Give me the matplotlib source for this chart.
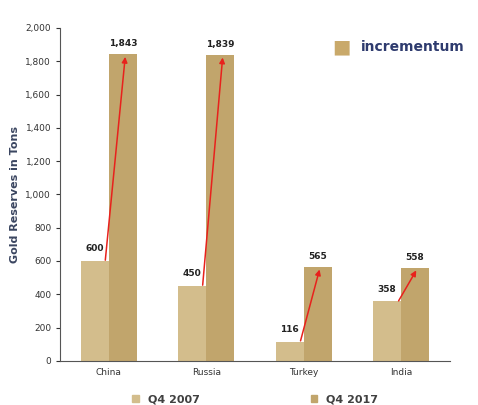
import numpy as np
import matplotlib.pyplot as plt
from matplotlib.patches import Patch

countries = ['China', 'Russia', 'Turkey', 'India']
q4_2007 = [600, 450, 116, 358]
q4_2017 = [1843, 1839, 565, 558]

c_2007 = '#D3BD8C'
c_2017 = '#C1A56C'

fig = plt.figure(figsize=(4.78, 4.05), dpi=100)
ax = fig.add_axes([0.126, 0.109, 0.815, 0.822])

x = np.arange(len(countries))
w = 0.287
ax.bar(x - w / 2, q4_2007, w, color=c_2007)
ax.bar(x + w / 2, q4_2017, w, color=c_2017)

for i in range(len(countries)):
    ax.text(x[i] - w / 2, q4_2007[i] + 45, f'{q4_2007[i]:,}', ha='center', va='bottom',
            fontsize=6.5, fontweight='bold', color='#222222')
    ax.text(x[i] + w / 2, q4_2017[i] + 35, f'{q4_2017[i]:,}', ha='center', va='bottom',
            fontsize=6.5, fontweight='bold', color='#222222')
    ax.annotate('', xy=(x[i] + 0.17, q4_2017[i]), xytext=(x[i] - 0.04, q4_2007[i] - 12),
                arrowprops=dict(arrowstyle='-|>', color='#E8211C', lw=1.1, mutation_scale=8))

ax.set_xlim(-0.5, 3.5)
ax.set_ylim(0, 2000)
ax.set_yticks(range(0, 2001, 200))
ax.set_yticklabels([f'{v:,}' for v in range(0, 2001, 200)])
ax.set_xticks(x)
ax.set_xticklabels(countries)
ax.tick_params(labelsize=6.5, colors='#333333', length=3)
ax.tick_params(axis='x', length=0, pad=5)
for s in ['top', 'right']:
    ax.spines[s].set_visible(False)
for s in ['left', 'bottom']:
    ax.spines[s].set_color('#555555')
ax.set_ylabel('Gold Reserves in Tons', fontsize=8, fontweight='bold', color='#3A4560')

leg = ax.legend(handles=[Patch(color=c_2007, label='Q4 2007'), Patch(color=c_2017, label='Q4 2017')],
                loc='upper center', bbox_to_anchor=(0.5, -0.07), ncol=2, frameon=False,
                handlelength=0.6, handleheight=0.6, columnspacing=10,
                prop={'size': 8, 'weight': 'bold'})
for t in leg.get_texts():
    t.set_color('#404040')

fig.text(0.715, 0.885, '\u25a0', color='#C9A96A', fontsize=14, ha='center', va='center')
fig.text(0.755, 0.885, 'incrementum', color='#2E3B6E', fontsize=10, fontweight='bold',
         ha='left', va='center')

fig.savefig('out.png', dpi=100)
